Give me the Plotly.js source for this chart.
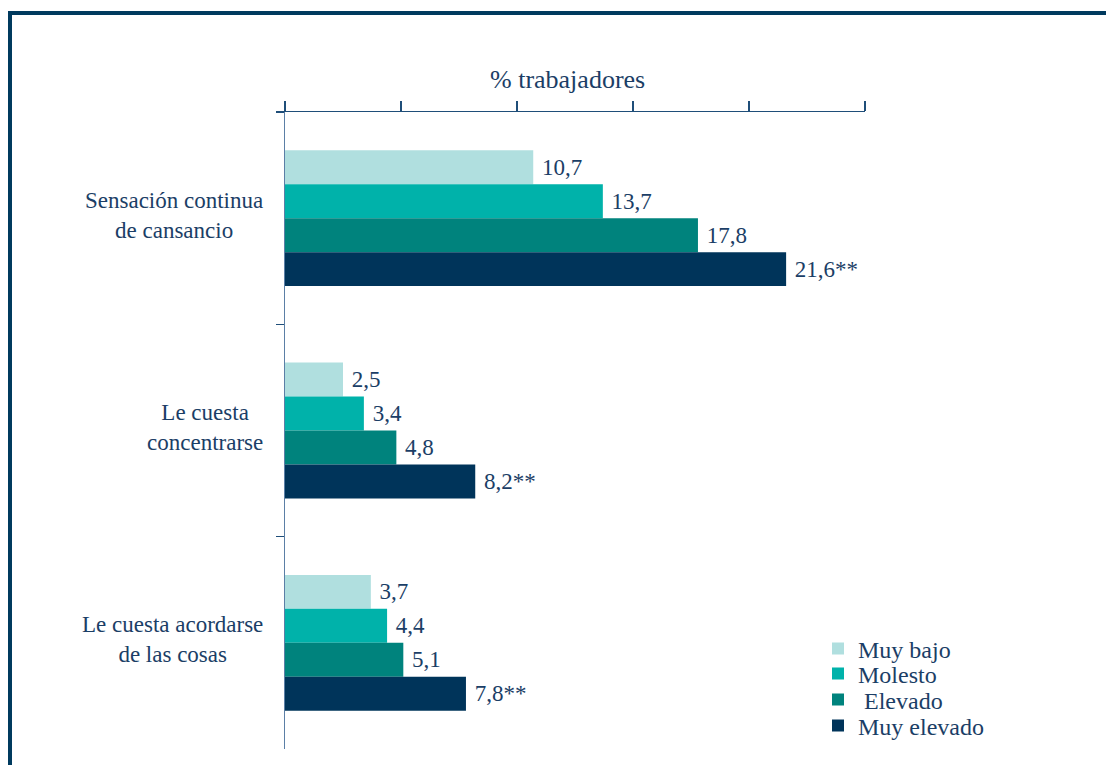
<!DOCTYPE html>
<html>
<head>
<meta charset="utf-8">
<script src="https://cdn.plot.ly/plotly-3.0.1.min.js"></script>
<style>html,body{margin:0;padding:0;background:#fff;}#chart{width:1106px;height:765px;}</style>
</head>
<body>
<div id="chart"></div>
<script>
const categories = ["Sensación continua<br>de cansancio", "Le cuesta<br>concentrarse", "Le cuesta acordarse<br>de las cosas"];
const seriesNames = ["Muy bajo", "Molesto", "\u00a0Elevado", "Muy elevado"];
const muyBajo = [10.7, 2.5, 3.7];
const molesto = [13.7, 3.4, 4.4];
const elevado = [17.8, 4.8, 5.1];
const muyElevado = [21.6, 8.2, 7.8];
const significance = ["", "", "", "**"];
const xTicks = [0, 5, 10, 15, 20, 25];
const axisTitle = "% trabajadores";

const colors = ["#b0dfdf", "#00b2aa", "#00837d", "#00345a"];
const textColor = "#1b3e66";
const font = "'Liberation Serif', 'Times New Roman', 'DejaVu Serif', serif";
const seriesValues = [muyBajo, molesto, elevado, muyElevado];
const legendIds = ["legend", "legend2", "legend3", "legend4"];
const legendRowsPx = [649, 674, 700, 726];

const traces = seriesValues.map((vals, i) => ({
  type: "bar",
  orientation: "h",
  name: seriesNames[i],
  legend: legendIds[i],
  x: vals,
  y: categories,
  marker: {color: colors[i], line: {width: 0}},
  text: vals.map(v => "\u00a0" + v.toFixed(1).replace(".", ",") + significance[i]),
  textposition: "outside",
  textfont: {family: font, size: 23, color: textColor},
  cliponaxis: false,
  hoverinfo: "x+name"
}));

const catAnnotations = categories.map(c => ({
  xref: "paper", yref: "y",
  x: (265 - 285) / 580, y: c,
  xanchor: "right", yanchor: "middle",
  align: "center", yshift: 3,
  text: c, showarrow: false,
  font: {family: font, size: 23, color: textColor}
}));

const layout = {
  width: 1106, height: 765,
  margin: {l: 285, r: 241, t: 112, b: 16, pad: 0, autoexpand: false},
  paper_bgcolor: "#ffffff", plot_bgcolor: "#ffffff",
  barmode: "group", bargap: 0.36, bargroupgap: 0,
  showlegend: true,
  xaxis: {
    side: "top", range: [0, 25],
    tickmode: "array", tickvals: xTicks,
    showticklabels: false,
    ticks: "outside", ticklen: 10, tickwidth: 1.5, tickcolor: "#1f4e79",
    showline: true, linecolor: "#1f4e79", linewidth: 1.5,
    showgrid: false, zeroline: false, fixedrange: true
  },
  yaxis: {
    type: "category", autorange: "reversed",
    showticklabels: false,
    ticks: "outside", tickson: "boundaries", ticklen: 8, tickwidth: 1.5, tickcolor: "#1f4e79",
    showline: true, linecolor: "#5b7fa6", linewidth: 1.5,
    showgrid: false, zeroline: false, fixedrange: true
  },
  annotations: catAnnotations.concat([{
    xref: "paper", yref: "paper",
    x: (567 - 285) / 580, y: (749 - 80) / 637,
    xanchor: "center", yanchor: "middle",
    text: axisTitle, showarrow: false,
    font: {family: font, size: 26, color: textColor}
  }]),
  shapes: [
    {type: "line", xref: "paper", yref: "paper",
     x0: (10 - 285) / 580, x1: (10 - 285) / 580, y0: (749 - 11) / 637, y1: (749 - 770) / 637,
     line: {color: "#003a5e", width: 4}},
    {type: "line", xref: "paper", yref: "paper",
     x0: (8 - 285) / 580, x1: (1110 - 285) / 580, y0: (749 - 13) / 637, y1: (749 - 13) / 637,
     line: {color: "#003a5e", width: 4}}
  ]
};

legendIds.forEach((id, i) => {
  layout[id] = {
    x: (818 - 285) / 580, y: (749 - legendRowsPx[i]) / 637,
    xanchor: "left", yanchor: "middle",
    font: {family: font, size: 24, color: textColor},
    bgcolor: "rgba(0,0,0,0)", borderwidth: 0
  };
});

Plotly.newPlot("chart", traces, layout, {displayModeBar: false, staticPlot: true});
</script>
</body>
</html>
